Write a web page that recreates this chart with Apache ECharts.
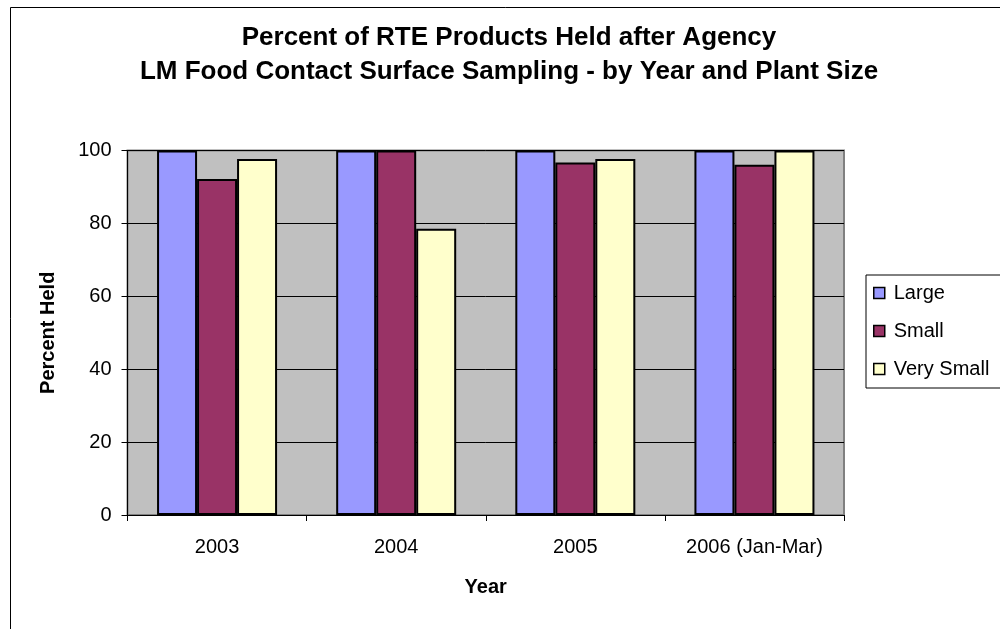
<!DOCTYPE html>
<html>
<head>
<meta charset="utf-8">
<script src="https://cdn.jsdelivr.net/npm/echarts@6/dist/echarts.min.js"></script>
<style>html,body{margin:0;padding:0;background:#fff}#c{width:1000px;height:629px}</style>
</head>
<body>
<div id="c"></div>
<script>
const categories = ['2003', '2004', '2005', '2006 (Jan-Mar)'];
const seriesNames = ['Large', 'Small', 'Very Small'];
const large = [100, 100, 100, 100];
const small = [92.2, 100, 96.7, 96.1];
const verySmall = [97.7, 78.5, 97.7, 100];
const yTicks = [0, 20, 40, 60, 80, 100];

const FONT = '"Liberation Sans", Arial, sans-serif';
const colors = ['#9999FF', '#993366', '#FFFFCC'];
const values = [large, small, verySmall];

const chart = echarts.init(document.getElementById('c'), null, {renderer: 'canvas'});
chart.setOption({
  animation: false,
  backgroundColor: '#ffffff',
  title: {
    text: 'Percent of RTE Products Held after Agency\nLM Food Contact Surface Sampling - by Year and Plant Size',
    left: 509, top: 21, textAlign: 'center', padding: 0,
    textStyle: {fontFamily: FONT, fontSize: 26, fontWeight: 'bold', color: '#000', lineHeight: 34}
  },
  graphic: [{
    type: 'rect', left: 8, top: 5, silent: true,
    shape: {x: 0, y: 0, width: 1100, height: 1000},
    style: {fill: 'none', stroke: '#000', lineWidth: 1}
  }],
  legend: {
    orient: 'vertical', left: 866, top: 275,
    padding: [8, 40, 9, 7], itemGap: 18,
    itemWidth: 11, itemHeight: 11,
    borderColor: '#000', borderWidth: 1, backgroundColor: '#fff',
    icon: 'rect',
    itemStyle: {borderColor: '#000', borderWidth: 1.5},
    textStyle: {fontFamily: FONT, fontSize: 20, color: '#000', padding: [0, 0, 0, 4], lineHeight: 20},
    data: seriesNames
  },
  grid: {
    left: 127.5, right: 156, top: 150.5, bottom: 114,
    show: true, backgroundColor: '#C0C0C0', borderColor: '#808080', borderWidth: 2
  },
  xAxis: {
    type: 'category', data: categories,
    name: 'Year', nameLocation: 'middle', nameGap: 62,
    nameTextStyle: {fontFamily: FONT, fontSize: 20, fontWeight: 'bold', color: '#000'},
    axisLine: {lineStyle: {color: '#000', width: 1}},
    axisTick: {show: true, alignWithLabel: false, length: 6, lineStyle: {color: '#000'}},
    axisLabel: {fontFamily: FONT, fontSize: 20, color: '#000', margin: 22, interval: 0},
    splitLine: {show: false}
  },
  yAxis: {
    type: 'value', min: 0, max: 100, interval: 20,
    name: 'Percent Held', nameLocation: 'middle', nameGap: 69,
    nameTextStyle: {fontFamily: FONT, fontSize: 20, fontWeight: 'bold', color: '#000'},
    axisLine: {show: true, lineStyle: {color: '#000', width: 1}},
    axisTick: {show: true, length: 6, lineStyle: {color: '#000'}},
    axisLabel: {fontFamily: FONT, fontSize: 20, color: '#000', margin: 16,
      formatter: v => yTicks.includes(v) ? String(v) : ''},
    splitLine: {show: true, lineStyle: {color: '#000', width: 1}}
  },
  series: seriesNames.map((n, i) => ({
    name: n, type: 'bar', data: values[i],
    barGap: '0%', barCategoryGap: '33%',
    itemStyle: {color: colors[i], borderColor: '#000', borderWidth: 2}
  }))
});
</script>
</body>
</html>
